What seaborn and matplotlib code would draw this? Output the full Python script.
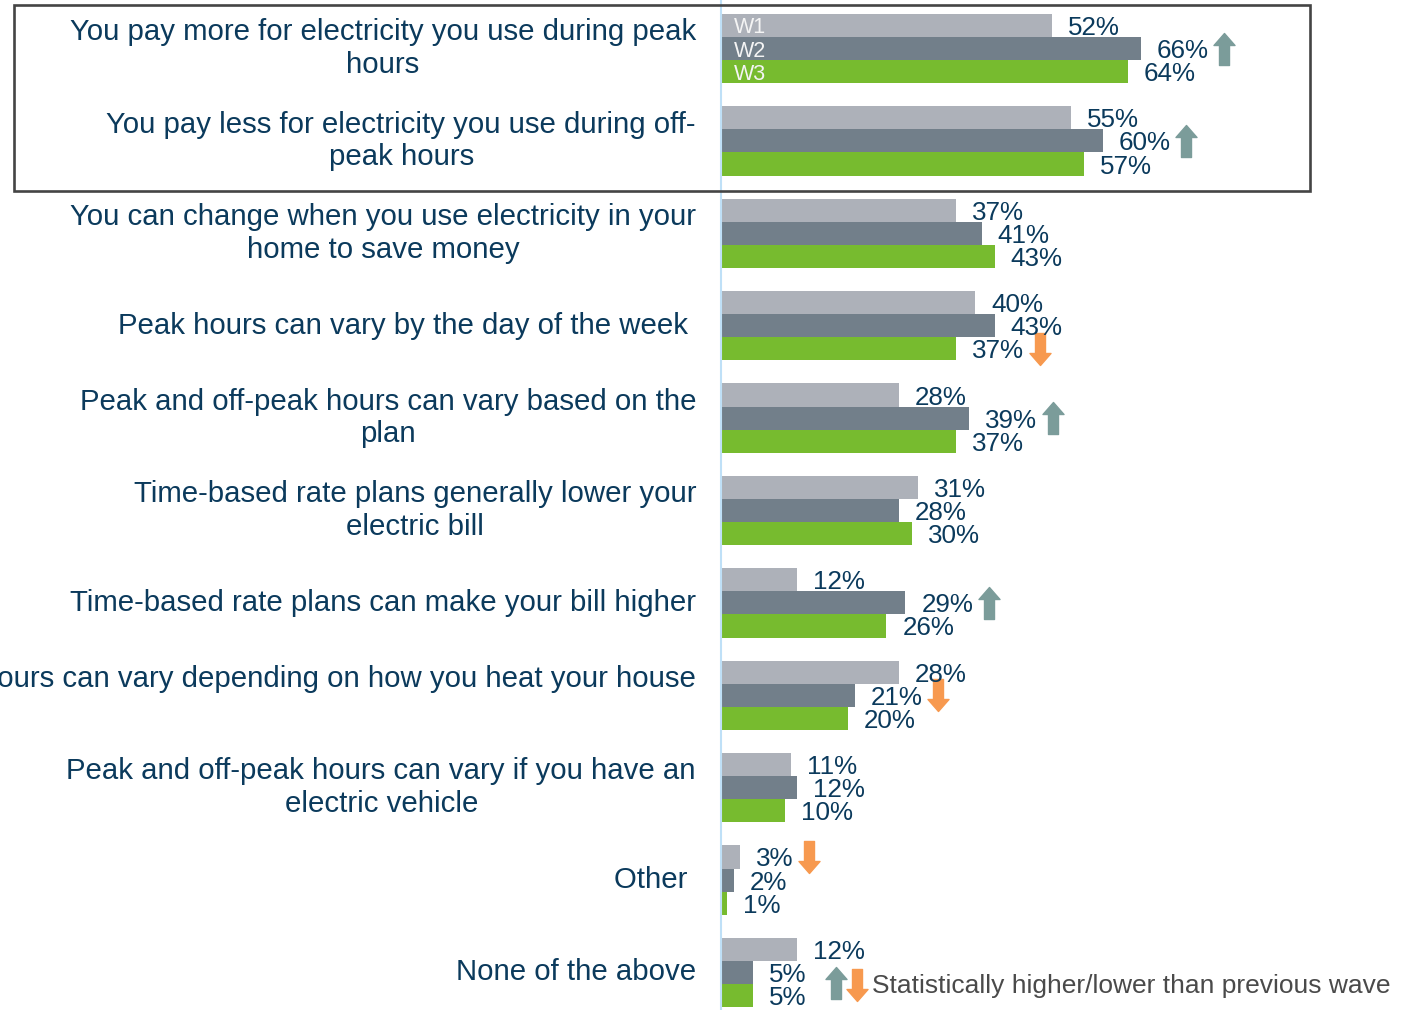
import pandas as pd
import matplotlib.pyplot as plt
import seaborn as sns
from matplotlib.path import Path
from matplotlib.patches import Rectangle

sns.set_style('white')
plt.rcParams['font.family'] = ['Liberation Sans', 'DejaVu Sans']

items = ['You pay more for electricity you use during peak\nhours',
         'You pay less for electricity you use during off-\npeak hours',
         'You can change when you use electricity in your\nhome to save money',
         'Peak hours can vary by the day of the week ',
         'Peak and off-peak hours can vary based on the\nplan',
         'Time-based rate plans generally lower your\nelectric bill',
         'Time-based rate plans can make your bill higher',
         'Peak and off-peak hours can vary depending on how you heat your house\n ',
         'Peak and off-peak hours can vary if you have an\nelectric vehicle',
         'Other ',
         'None of the above']
waves = ['W1', 'W2', 'W3']
w1 = [52, 55, 37, 40, 28, 31, 12, 28, 11, 3, 12]
w2 = [66, 60, 41, 43, 39, 28, 29, 21, 12, 2, 5]
w3 = [64, 57, 43, 37, 37, 30, 26, 20, 10, 1, 5]
# (item index, wave, direction) for significance arrows
sig = [(0, 'W2', 'up'), (1, 'W2', 'up'), (3, 'W3', 'down'), (4, 'W2', 'up'),
       (6, 'W2', 'up'), (7, 'W2', 'down'), (9, 'W1', 'down')]

colors = ['#adb1b9', '#727f8a', '#77bb2f']
navy = '#0b3a5c'
up_col, down_col = '#7b9c9a', '#f7994f'

df = pd.DataFrame({'item': items * 3,
                   'wave': [w for w in waves for _ in items],
                   'pct': w1 + w2 + w3})

fig = plt.figure(figsize=(14.01, 10.10), dpi=100)
ax = fig.add_axes([721 / 1401, 0, 680 / 1401, 1])
sns.barplot(data=df, y='item', x='pct', hue='wave', orient='h', palette=colors,
            width=0.75, saturation=1, legend=False, ax=ax, linewidth=0)
ax.set_xlim(0, 106.9)
ax.set_ylim(10.406, -0.525)
ax.set_xlabel('')
ax.set_ylabel('')
ax.set_xticks([])
ax.tick_params(axis='y', length=0, pad=18, labelsize=21.2, labelcolor=navy)
for t in ax.get_yticklabels():
    t.set_multialignment('center')
    t.set_verticalalignment('center')
for s in ['top', 'right', 'bottom']:
    ax.spines[s].set_visible(False)
ax.spines['left'].set_color('#bfe0f7')
ax.spines['left'].set_linewidth(1.5)

labels = {}
for wave, cont, vals in zip(waves, ax.containers, [w1, w2, w3]):
    anns = ax.bar_label(cont, labels=[f'{v}%' for v in vals], padding=11.5,
                        fontsize=18.7, color=navy)
    for a in anns:
        a.set_verticalalignment('center_baseline')
    labels[wave] = (cont, anns)
    p = cont.patches[0]
    ax.text(2.0, p.get_y() + p.get_height() / 2, wave, color='#f4f4f4',
            fontsize=15.5, va='center_baseline', ha='left')

# arrow marker shapes
up_verts = [(-5, -16), (5, -16), (5, 4), (10.5, 4), (0, 16), (-10.5, 4), (-5, 4), (-5, -16)]
down_verts = [(x, -y) for x, y in up_verts]
up_m = Path(up_verts, closed=True)
down_m = Path(down_verts, closed=True)
msize = 32 * 72 / 100

fig.canvas.draw()
inv = ax.transData.inverted()
for idx, wave, d in sig:
    cont, anns = labels[wave]
    p = cont.patches[idx]
    bb = anns[idx].get_window_extent()
    yc = p.get_y() + p.get_height() / 2
    xd, _ = inv.transform((bb.x1 + 5 + 10.5, 0))
    ax.plot(xd, yc, marker=up_m if d == 'up' else down_m, markersize=msize,
            color=up_col if d == 'up' else down_col, linestyle='none', clip_on=False)

# note at bottom right
fig.lines.append(plt.Line2D([836 / 1401], [1 - 983 / 1010], marker=up_m, markersize=msize,
                            color=up_col, transform=fig.transFigure, linestyle='none'))
fig.lines.append(plt.Line2D([857 / 1401], [1 - 985 / 1010], marker=down_m, markersize=msize,
                            color=down_col, transform=fig.transFigure, linestyle='none'))
fig.text(872 / 1401, 1 - 986 / 1010, 'Statistically higher/lower than previous wave',
         fontsize=19, color='#4a4a4a', va='center', ha='left')

# box around the first two items
fig.add_artist(Rectangle((14 / 1401, 1 - 191 / 1010), (1310 - 14) / 1401, (191 - 5) / 1010,
                         transform=fig.transFigure, fill=False, edgecolor='#444444',
                         linewidth=1.9))

fig.savefig('out.png', dpi=100)
